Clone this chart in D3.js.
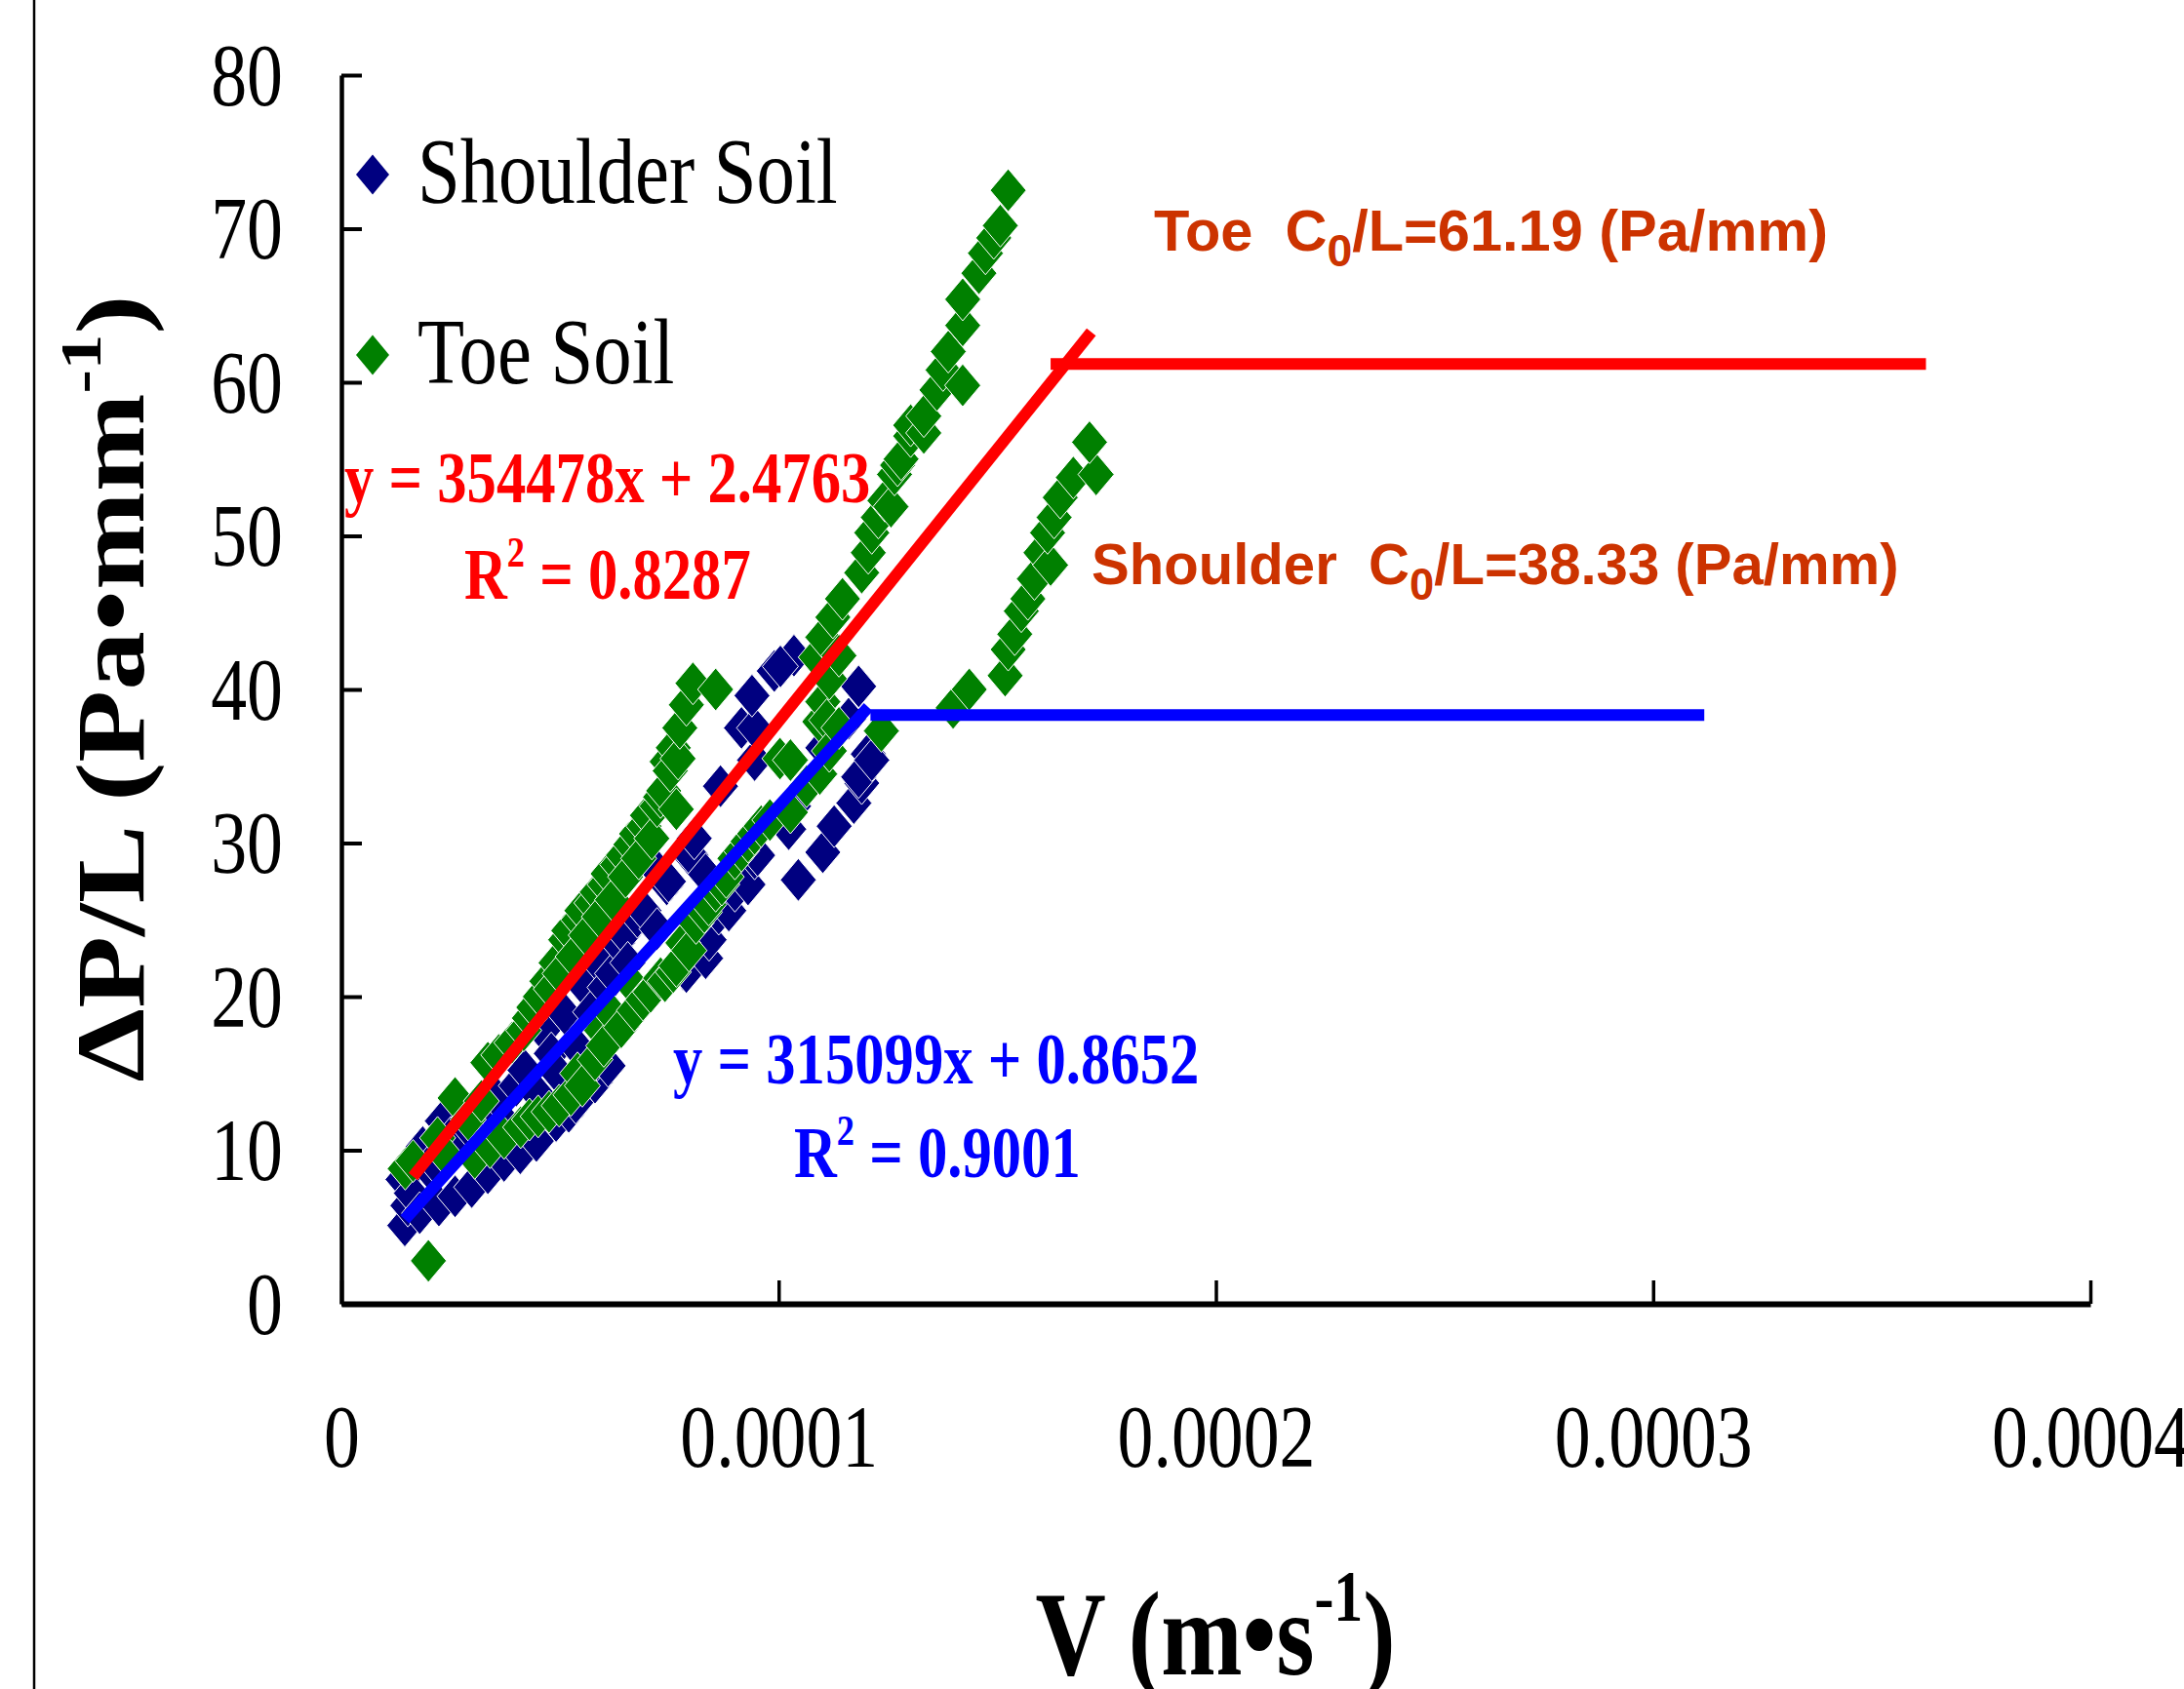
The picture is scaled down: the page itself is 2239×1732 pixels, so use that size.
<!DOCTYPE html>
<meta charset="utf-8">

<!-- Load d3.js -->
<script src="https://d3js.org/d3.v7.min.js"></script>

<style>
  body { margin: 0; background: #fff; }
</style>

<!-- Create a div where the graph will take place -->
<div id="my_dataviz"></div>

<script>

  // values: [V (x 1e-5 m/s), dP/L (Pa/mm)]
  const shoulderSoil = [
    [1.45,5.1],[1.52,6.4],[1.41,8.1],[1.6,7.2],[1.79,5.9],[1.86,10.2],[2.0,8.8],[2.1,9.3],[2.23,6.4],
    [2.31,11.9],[2.45,9.6],[2.5,10.8],[2.6,7.0],[2.75,10.6],[2.9,11.5],[2.98,7.6],[3.1,12.3],[3.2,9.8],
    [3.3,12.9],[3.35,8.5],[3.55,13.4],[3.6,10.2],[3.72,9.3],[3.8,11.6],[4.0,14.2],[4.09,9.8],[4.2,15.2],
    [4.3,11.2],[4.46,10.6],[4.5,13.6],[4.61,17.8],[4.8,16.3],[4.91,11.9],[4.95,15.0],[5.1,18.9],[5.2,12.5],
    [5.36,13.1],[5.45,16.5],[5.58,20.6],[5.7,19.0],[5.8,14.4],[5.85,15.9],[5.95,22.0],[6.1,15.5],[6.03,20.6],
    [6.2,21.5],[6.32,23.5],[6.47,24.1],[6.55,22.2],[6.77,25.2],[6.92,25.6],[7.22,24.4],[7.2,28.3],[7.44,27.3],
    [7.48,27.5],[7.81,21.8],[7.89,21.6],[7.96,29.2],[8.0,29.2],[8.07,30.3],[8.26,23.7],[8.33,22.5],[8.33,27.96],
    [8.41,23.7],[8.63,25.4],[8.67,33.7],[8.86,25.6],[9.0,26.9],[9.3,27.3],[9.45,29.0],[9.52,29.2],[9.45,35.4],
    [9.15,37.5],[9.45,37.5],[9.39,39.6],[9.9,41.2],[10.35,42.2],[10.04,41.5],[10.23,30.9],[10.34,32.4],[10.45,27.6],
    [11.01,29.4],[11.27,31.1],[11.72,32.6],[11.9,33.9],[11.83,34.3],[12.05,35.8],[12.13,35.4],[11.01,36.2],
    [11.24,37.5],[11.6,38.1],[11.83,40.2]
  ]

  const toeSoil = [
    [1.46,8.8],[1.64,9.3],[1.99,2.8],[2.2,10.8],[2.4,9.6],[2.6,13.4],[2.9,12.0],[3.05,9.5],
    [3.2,13.2],[3.35,15.7],[3.4,10.2],[3.6,16.2],[3.72,10.8],[3.9,17.0],[4.1,11.5],[4.17,17.8],[4.3,18.6],
    [4.3,12.0],[4.4,19.3],[4.5,12.2],[4.55,20.0],[4.7,21.0],[4.75,12.5],[4.8,20.5],[4.91,22.2],[4.98,12.9],
    [5.0,21.5],[5.13,23.7],[5.2,24.3],[5.25,13.6],[5.3,22.6],[5.4,15.0],[5.43,25.0],[5.5,25.6],[5.51,14.2],
    [5.6,24.0],[5.73,26.1],[5.8,15.9],[5.85,26.8],[5.9,25.2],[5.95,17.8],[6.0,16.8],[6.03,27.3],[6.1,28.0],
    [6.18,18.9],[6.2,26.3],[6.32,28.6],[6.4,18.0],[6.45,29.2],[6.5,27.8],[6.62,29.9],[6.7,19.1],[6.7,20.6],
    [6.75,30.6],[6.8,29.0],[6.9,19.8],[6.92,31.1],[7.0,31.8],[7.07,20.3],[7.1,30.3],[7.22,32.4],[7.3,33.0],
    [7.3,21.2],[7.37,33.4],[7.4,21.0],[7.45,35.3],[7.52,34.7],[7.59,21.6],[7.59,36.2],[7.66,32.2],[7.66,22.0],
    [7.7,35.5],[7.74,37.5],[7.81,23.5],[7.89,39.0],[7.95,23.0],[8.04,40.4],[8.11,24.8],[8.3,25.5],[8.4,26.0],
    [8.56,40.0],[8.56,26.9],[8.7,27.3],[8.8,27.8],[9.0,29.0],[9.15,29.5],[9.3,30.1],[9.45,30.6],[9.6,31.1],
    [9.8,31.5],[10.03,35.5],[10.27,32.0],[10.27,35.4],[10.64,33.7],[10.94,34.5],[10.94,37.9],[11.01,39.2],
    [11.1,38.0],[11.16,36.0],[11.16,40.7],[11.38,37.5],[10.86,42.1],[11.01,43.4],[11.38,42.2],[11.24,44.7],
    [11.46,45.9],[11.9,47.6],[12.05,48.9],[12.13,50.2],[12.28,51.2],[12.35,37.3],[12.43,52.3],[12.57,51.9],
    [12.65,54.0],[12.72,54.6],[12.8,55.0],[13.02,56.5],[13.02,57.2],[13.32,56.7],[13.32,57.8],[13.62,59.5],
    [13.76,60.8],[13.88,62.0],[14.21,59.8],[14.21,63.7],[14.21,65.4],[14.58,67.1],[14.73,68.4],[14.92,69.4],
    [15.07,70.2],[15.25,72.5],[13.99,38.8],[14.36,40.0],[15.18,40.9],[15.25,42.6],[15.4,43.6],[15.55,45.1],
    [15.7,45.9],[15.85,47.2],[16.0,48.9],[16.22,48.1],[16.15,50.2],[16.3,51.2],[16.44,52.5],[16.74,53.8],
    [17.26,54.0],[17.11,56.1]
  ]

  // trend lines (end points) and critical gradients
  const toeFit = [[1.64,8.29],[17.15,63.27]]
  const shoulderFit = [[1.45,5.5],[12.05,38.85]]
  const toeC0 = [[16.22,61.19],[36.24,61.19]]
  const shoulderC0 = [[12.1,38.33],[31.17,38.33]]

  const yTicks = [0,10,20,30,40,50,60,70,80]
  const xTicks = [0,10,20,30,40]
  const xTickLabels = ["0","0.0001","0.0002","0.0003","0.0004"]

  // set the dimensions and margins of the graph
  const W = 2239, H = 1732
  const margin = {top: 77, right: 96, bottom: 395, left: 350},
      width = W - margin.left - margin.right,
      height = H - margin.top - margin.bottom;
  const squeeze = 0.82   // the serif text in the figure is narrow
  const serif = "'Liberation Serif', 'Times New Roman', serif"
  const sans = "'Liberation Sans', Arial, sans-serif"

  const root = d3.select("#my_dataviz")
    .append("svg")
      .attr("width", W)
      .attr("height", H)
      .style("background", "#fff")

  // thin frame line on the far left
  root.append("line")
    .attr("x1", 35).attr("x2", 35).attr("y1", 0).attr("y2", H)
    .attr("stroke", "#000").attr("stroke-width", 2.5)

  const svg = root.append("g")
      .attr("transform", `translate(${margin.left},${margin.top})`);

  const x = d3.scaleLinear().domain([0, 40]).range([0, width])
  const y = d3.scaleLinear().domain([0, 80]).range([height, 0])

  // Y axis, ticks pointing inside
  const yAxis = svg.append("g")
    .call(d3.axisLeft(y).tickValues(yTicks).tickSize(-21).tickSizeOuter(0).tickPadding(0))
  yAxis.select(".domain").attr("stroke-width", 4.5)
  yAxis.selectAll(".tick line").attr("stroke-width", 4)
  yAxis.selectAll(".tick text")
    .attr("x", null).attr("dy", null)
    .attr("transform", `translate(-60,30) scale(${squeeze},1)`)
    .style("font-family", serif).style("font-size", "90px")
    .style("text-anchor", "end")

  // X axis
  const xAxis = svg.append("g")
    .attr("transform", `translate(0,${height})`)
    .call(d3.axisBottom(x).tickValues(xTicks).tickSize(-24).tickSizeOuter(0).tickPadding(0)
      .tickFormat((d, i) => xTickLabels[i]))
  xAxis.select(".domain").attr("stroke-width", 6)
  xAxis.selectAll(".tick line").attr("stroke-width", 3.5)
  xAxis.selectAll(".tick text")
    .attr("y", null).attr("dy", null)
    .attr("transform", `translate(0,167) scale(${squeeze},1)`)
    .style("font-family", serif).style("font-size", "90px")
    .style("text-anchor", "middle")

  // diamond markers
  const diamond = "M0,-22L18.5,0L0,22L-18.5,0Z"
  const legendDiamond = "M0,-20.5L17,0L0,20.5L-17,0Z"

  svg.append("g")
    .selectAll("path")
    .data(shoulderSoil)
    .join("path")
      .attr("d", diamond)
      .attr("transform", d => `translate(${x(d[0])},${y(d[1])})`)
      .attr("fill", "#000080")
      .attr("stroke", "#fff").attr("stroke-width", 1)

  svg.append("g")
    .selectAll("path")
    .data(toeSoil)
    .join("path")
      .attr("d", diamond)
      .attr("transform", d => `translate(${x(d[0])},${y(d[1])})`)
      .attr("fill", "#008000")
      .attr("stroke", "#fff").attr("stroke-width", 1)

  // lines
  const line = d3.line().x(d => x(d[0])).y(d => y(d[1]))
  const lines = [
    {pts: toeFit, color: "#ff0000"},
    {pts: shoulderFit, color: "#0000ff"},
    {pts: toeC0, color: "#ff0000"},
    {pts: shoulderC0, color: "#0000ff"}
  ]
  svg.selectAll(".fit")
    .data(lines)
    .join("path")
      .attr("class", "fit")
      .attr("d", d => line(d.pts))
      .attr("fill", "none")
      .attr("stroke", d => d.color)
      .attr("stroke-width", 12)

  // legend
  const legend = [
    {name: "Shoulder Soil", color: "#000080", cy: 179, base: 208},
    {name: "Toe Soil", color: "#008000", cy: 364, base: 393}
  ]
  legend.forEach(l => {
    root.append("path")
      .attr("d", legendDiamond)
      .attr("transform", `translate(382,${l.cy})`)
      .attr("fill", l.color)
    root.append("text")
      .attr("transform", `translate(428,${l.base}) scale(${squeeze},1)`)
      .style("font-family", serif).style("font-size", "96px")
      .text(l.name)
  })

  // text with a raised or lowered part
  function richText(parent, x0, y0, parts, font, size, weight, color, scaleX, anchor) {
    const t = parent.append("text")
      .attr("transform", `translate(${x0},${y0}) scale(${scaleX},1)`)
      .style("font-family", font).style("font-size", size + "px")
      .style("font-weight", weight).style("white-space", "pre")
      .style("text-anchor", anchor || "start")
      .attr("fill", color)
    parts.forEach(p => {
      const s = t.append("tspan").text(p.t)
      if (p.sup) s.style("font-size", (size * 0.6) + "px").attr("dy", -size * 0.45)
      if (p.sub) s.style("font-size", (size * 0.78) + "px").attr("dy", size * 0.27)
      if (p.back) s.attr("dy", p.back)
    })
    return t
  }

  // regression equations
  richText(root, 353, 515, [{t: "y = 354478x + 2.4763"}], serif, 74, "bold", "#ff0000", squeeze)
  richText(root, 476, 614, [{t: "R"}, {t: "2", sup: true}, {t: " = 0.8287", back: 74 * 0.45}],
    serif, 74, "bold", "#ff0000", squeeze)
  richText(root, 690, 1111, [{t: "y = 315099x + 0.8652"}], serif, 74, "bold", "#0000ff", squeeze)
  richText(root, 814, 1207, [{t: "R"}, {t: "2", sup: true}, {t: " = 0.9001", back: 74 * 0.45}],
    serif, 74, "bold", "#0000ff", squeeze)

  // critical gradients
  richText(root, 1183, 257, [{t: "Toe  C"}, {t: "0", sub: true}, {t: "/L=61.19 (Pa/mm)", back: -59.5 * 0.27}],
    sans, 59.5, "bold", "#cc3300", 1)
  richText(root, 1119, 599, [{t: "Shoulder  C"}, {t: "0", sub: true}, {t: "/L=38.33 (Pa/mm)", back: -59 * 0.27}],
    sans, 59, "bold", "#cc3300", 0.985)

  // axis titles
  const yTitle = root.append("text")
    .attr("transform", `translate(147,706) scale(${squeeze},1) rotate(-90)`)
    .style("font-family", serif).style("font-size", "121px").style("font-weight", "bold")
    .style("text-anchor", "middle")
  yTitle.append("tspan").text("\u0394P/L (Pa\u2022mm")
  yTitle.append("tspan").text("-1").style("font-size", "73px").attr("dy", -54)
  yTitle.append("tspan").text(")").attr("dy", 54)

  const xTitle = root.append("text")
    .attr("transform", `translate(1246,1717) scale(${squeeze},1)`)
    .style("font-family", serif).style("font-size", "122px").style("font-weight", "bold")
    .style("text-anchor", "middle")
  xTitle.append("tspan").text("V (m\u2022s")
  xTitle.append("tspan").text("-1").style("font-size", "73px").attr("dy", -55)
  xTitle.append("tspan").text(")").attr("dy", 55)

</script>
